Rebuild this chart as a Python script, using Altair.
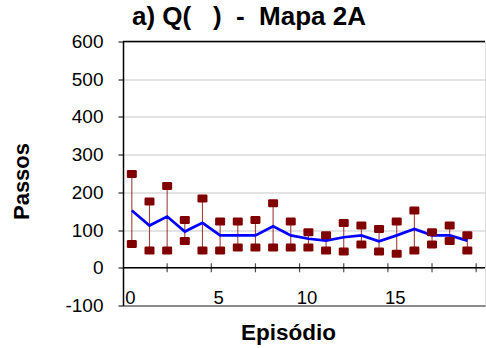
import altair as alt
import pandas as pd

# Steps per episode: minimum, maximum and mean over the runs
episodes = list(range(20))
passos_max = [249, 176, 217, 127, 184, 123, 123, 127, 171, 123,
              94, 86, 119, 112, 103, 123, 152, 94, 112, 86]
passos_min = [63, 46, 46, 71, 46, 46, 54, 54, 54, 54,
              54, 46, 43, 62, 43, 37, 46, 62, 71, 46]
passos_med = [152, 112, 136, 96, 119, 86, 86, 86, 110, 86,
              77, 72, 81, 86, 70, 86, 103, 86, 86, 72]

x_labels = [0, 5, 10, 15]
y_ticks = [-100, 0, 100, 200, 300, 400, 500, 600]
# minor tick marks along the zero line
zero_ticks = [2, 4.5, 7, 9.5, 12, 14.5, 17, 19.5]

df = pd.DataFrame({"ep": episodes, "max": passos_max,
                   "min": passos_min, "med": passos_med})
ticks_df = pd.DataFrame({"ep": zero_ticks, "v": [0] * len(zero_ticks)})
border_df = pd.DataFrame({"v": [0, 600]})

FONT = "Liberation Sans"
RED = "#800000"
NB = "\u00a0"

x_scale = alt.Scale(domain=[-0.5, 20], nice=False, zero=False)
y_scale = alt.Scale(domain=[-100, 600], nice=False, zero=False)

x_axis = alt.Axis(values=x_labels, tickCount=20, ticks=False, tickSize=0,
                  grid=False, domainColor="#707070", domainWidth=1.5,
                  labelFontSize=18.5, labelFont=FONT, labelColor="black",
                  labelBaseline="alphabetic", labelPadding=-2.5, labelOffset=-2,
                  title="Episódio", titleFont=FONT, titleFontSize=22.5,
                  titleFontWeight="bold", titleColor="black",
                  titleX=165, titleY=33.5, titleBaseline="alphabetic",
                  titleAlign="center")
y_axis = alt.Axis(values=y_ticks, tickCount=20, tickSize=5, tickColor="black",
                  domainColor="black", domainWidth=1.5,
                  labelFontSize=19, labelFont=FONT, labelColor="black",
                  labelPadding=15, labelOverlap=False, labelFlush=False,
                  labelExpr="datum.value + ''",
                  grid=True, gridColor="#c8c8c8",
                  title="Passos", titleFont=FONT, titleFontSize=22,
                  titleFontWeight="bold", titleColor="black",
                  titleX=-95, titleY=139.5, titleBaseline="alphabetic",
                  titleAlign="center", titleAngle=270)

base = alt.Chart(df)

ranges = base.mark_rule(color=RED, strokeWidth=1.1, opacity=0.75).encode(
    x=alt.X("ep:Q", scale=x_scale, axis=x_axis),
    y=alt.Y("min:Q", scale=y_scale, axis=y_axis),
    y2="max:Q",
)

mean_line = base.mark_line(color="#0000ff", strokeWidth=2.7).encode(
    x=alt.X("ep:Q", scale=x_scale, axis=x_axis),
    y=alt.Y("med:Q", scale=y_scale, axis=y_axis),
)

# rounded rectangle used for the min / max markers
box = ("M-0.75,-0.8 L0.75,-0.8 Q1,-0.8 1,-0.55 L1,0.55 Q1,0.8 0.75,0.8 "
       "L-0.75,0.8 Q-1,0.8 -1,0.55 L-1,-0.55 Q-1,-0.8 -0.75,-0.8 Z")
markers = base.transform_fold(["max", "min"], as_=["k", "val"]).mark_point(
    shape=box, size=100, filled=True, color=RED, opacity=1
).encode(
    x=alt.X("ep:Q", scale=x_scale, axis=x_axis),
    y=alt.Y("val:Q", scale=y_scale, axis=y_axis),
)

# zero line and top border of the plot
lines = alt.Chart(border_df).mark_rule(
    color="black", strokeWidth=1.5, clip=False
).encode(
    y=alt.Y("v:Q", scale=y_scale, axis=y_axis),
)

zero_marks = alt.Chart(ticks_df).mark_tick(
    orient="vertical", size=9, thickness=1.2, color="black"
).encode(
    x=alt.X("ep:Q", scale=x_scale, axis=x_axis),
    y=alt.Y("v:Q", scale=y_scale, axis=y_axis),
)

title_text = ("a)" + NB + "Q(" + NB * 3 + ")" + NB * 2 + "-" + NB * 2
              + "Mapa" + NB + "2A")

chart = alt.layer(ranges, lines, zero_marks, mean_line, markers).properties(
    width=362,
    height=264,
    autosize=alt.AutoSizeParams(type="none"),
    padding={"left": 123, "top": 41.5, "right": 1, "bottom": 42.5},
    title=alt.Title(title_text, anchor="start", frame="group", dx=9,
                    fontSize=26, font=FONT, fontWeight="bold",
                    color="black", offset=3),
).configure_view(stroke=None).configure(background="white")

chart.save("out.html", embed_options={"renderer": "svg", "actions": False})
